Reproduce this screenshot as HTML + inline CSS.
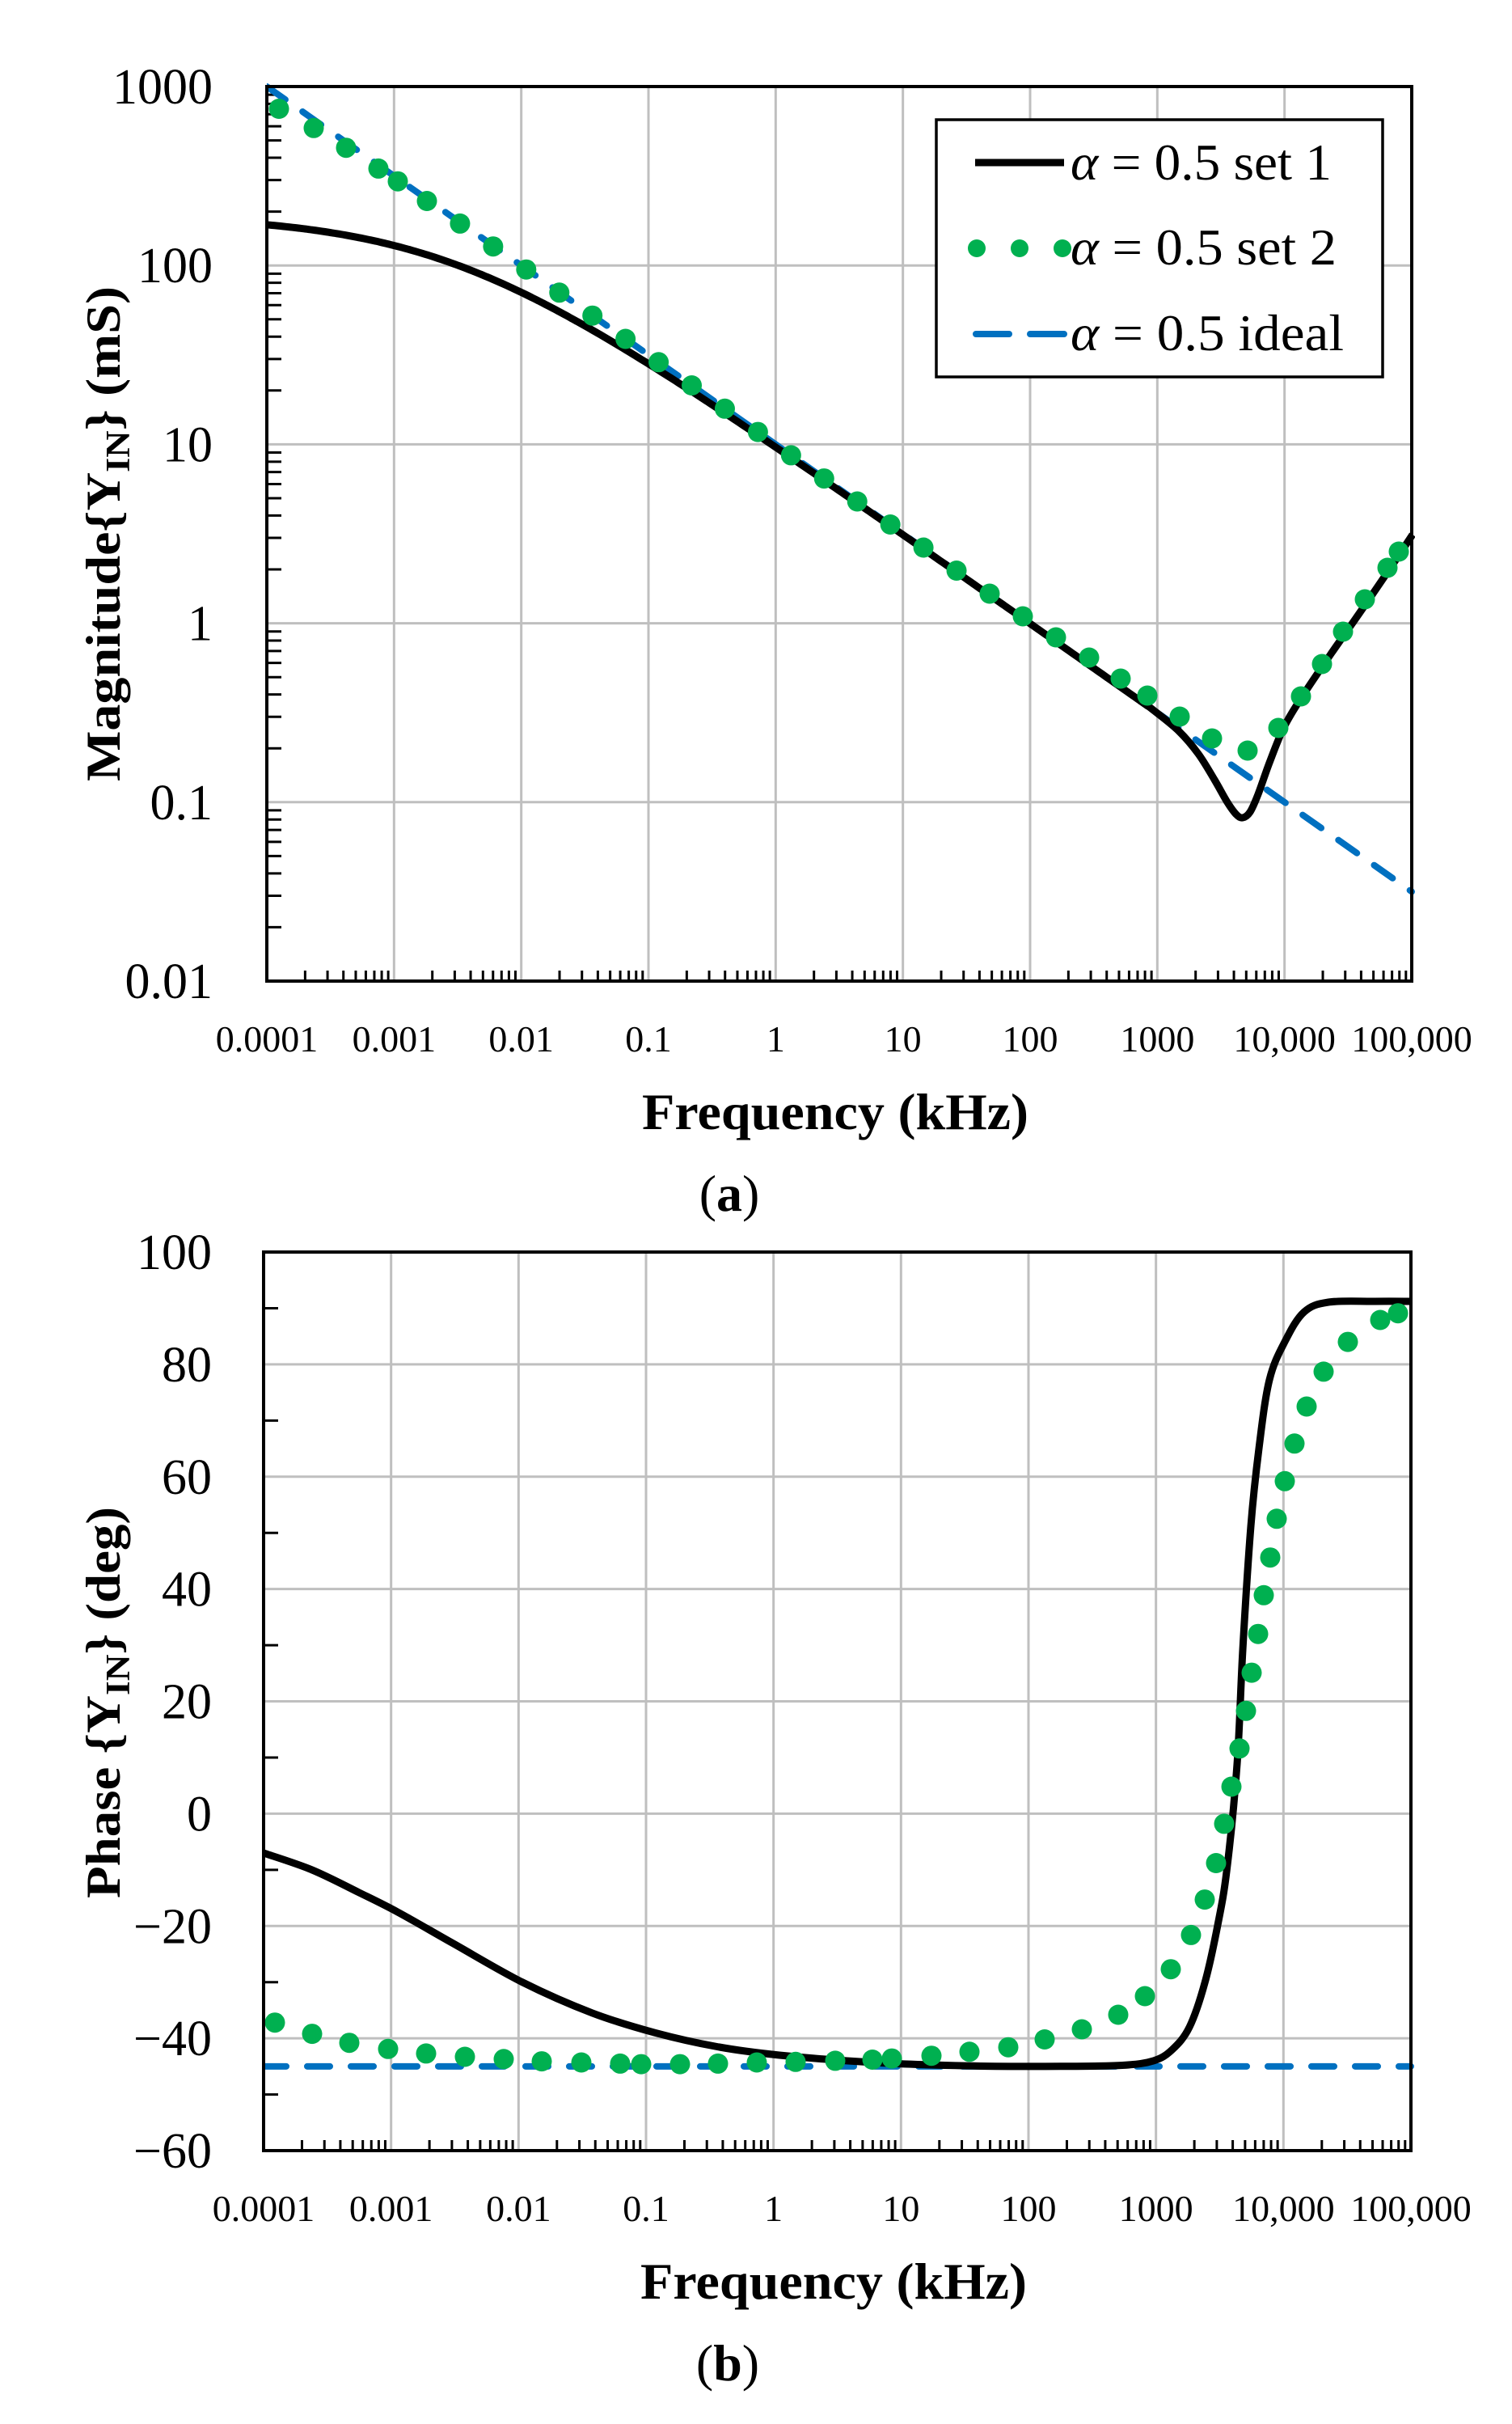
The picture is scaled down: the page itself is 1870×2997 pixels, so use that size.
<!DOCTYPE html>
<html><head><meta charset="utf-8">
<style>
html,body{margin:0;padding:0;background:#fff;}
svg{display:block;}
text{font-family:"Liberation Serif",serif;fill:#000;}
</style></head>
<body>
<svg id="s" width="1870" height="2997" viewBox="0 0 1870 2997" xmlns="http://www.w3.org/2000/svg"></svg>
<script>
const S=document.getElementById('s');
let h='';
function ln(x1,y1,x2,y2,c,w){h+=`<line x1="${x1}" y1="${y1}" x2="${x2}" y2="${y2}" stroke="${c}" stroke-width="${w}"/>`;}
function tx(x,y,t,sz,anchor,extra){h+=`<text x="${x}" y="${y}" font-size="${sz}" text-anchor="${anchor||'middle'}" ${extra||''}>${t}</text>`;}
function cr(pts){
  let d=`M${pts[0][0].toFixed(1)},${pts[0][1].toFixed(1)}`;
  for(let i=0;i<pts.length-1;i++){
    const p0=pts[i-1]||pts[i],p1=pts[i],p2=pts[i+1],p3=pts[i+2]||p2;
    const c1=[p1[0]+(p2[0]-p0[0])/6,p1[1]+(p2[1]-p0[1])/6];
    const c2=[p2[0]-(p3[0]-p1[0])/6,p2[1]-(p3[1]-p1[1])/6];
    d+=`C${c1[0].toFixed(1)},${c1[1].toFixed(1)} ${c2[0].toFixed(1)},${c2[1].toFixed(1)} ${p2[0].toFixed(1)},${p2[1].toFixed(1)}`;
  }
  return d;
}
const xlabels=['0.0001','0.001','0.01','0.1','1','10','100','1000','10,000','100,000'];
function frame(L,R,T,B){
  const xd=(R-L)/9;
  for(let i=1;i<9;i++) ln(L+i*xd,T,L+i*xd,B,'#bfbfbf',3);
  for(let i=0;i<9;i++) for(let k=2;k<=9;k++){const x=L+(i+Math.log10(k))*xd; ln(x,B,x,B-13,'#000',3);}
}
// ---------- Panel A ----------
{
const L=330,R=1746,T=107,B=1213,xd=(R-L)/9,yd=(B-T)/5;
for(let j=1;j<5;j++) ln(L,T+j*yd,R,T+j*yd,'#bfbfbf',3);
frame(L,R,T,B);
for(let j=0;j<5;j++) for(let k=2;k<=9;k++){const y=T+(j+1-Math.log10(k))*yd; ln(L,y,L+18,y,'#000',3);}
const yl=['1000','100','10','1','0.1','0.01'];
yl.forEach((t,j)=>tx(263,T+j*yd+21,t,62,'end'));
xlabels.forEach((t,i)=>tx(L+i*xd,1300,t,46));
tx(1033,1396,'Frequency (kHz)',64,'middle','font-weight="bold" textLength="478" lengthAdjust="spacingAndGlyphs"');
tx(902,1497,'(<tspan font-weight="bold">a</tspan>)',64);
h+=`<text transform="translate(148,660) rotate(-90)" font-size="60" font-weight="bold" text-anchor="middle" textLength="612" lengthAdjust="spacingAndGlyphs">Magnitude{Y<tspan font-size="42" dy="12">IN</tspan><tspan dy="-12">} (mS)</tspan></text>`;
h+=`<clipPath id="ca"><rect x="${L}" y="${T-6}" width="${R-L+4}" height="${B-T+6}"/></clipPath>`;
h+=`<line x1="${L}" y1="${T}" x2="${R}" y2="${T+4.5*yd}" stroke="#0070c0" stroke-width="8" stroke-dasharray="28 26" stroke-linecap="round" clip-path="url(#ca)"/>`;
const pts=[];
for(let x=L;x<=1430;x+=8){
  const lf=(x-L)/xd-4, f=Math.pow(10,lf);
  const r=0.1*Math.sqrt(f), re=0.00517+r*Math.SQRT1_2, im=r*Math.SQRT1_2;
  const m=1/Math.hypot(re,im);
  pts.push([x,T+(3-Math.log10(m))*yd]);
}
[[1458,904],[1482,932],[1502,964],[1518,992],[1529,1007],[1537,1011],[1546,1004],[1556,982],[1570,943],[1588,899],[1610,862],[1645,810],[1680,760],[1715,709],[1747,661]].forEach(p=>pts.push(p));
h+=`<path d="${cr(pts)}" fill="none" stroke="#000" stroke-width="9" stroke-linejoin="round" clip-path="url(#ca)"/>`;
const gx=[345,388,428,468,492];
for(let k=0;k<18;k++) gx.push(528+k*40.94);
let dots='';
gx.forEach(x=>{const y=T+0.7032*(x-L)+(x<700?17*Math.exp(-(x-345)/90):0)+(x>1000?-2*(x-1000)/265:0);dots+=`<circle cx="${x}" cy="${y.toFixed(1)}" r="12.5"/>`;});
[[1265,762],[1306,788],[1347,813],[1386,839],[1419,860],[1459,886],[1499,913],[1543,928],[1581,900],[1609,861],[1635,821],[1661,781],[1688,741],[1716,702],[1730,682]].forEach(p=>dots+=`<circle cx="${p[0]}" cy="${p[1]}" r="12.5"/>`);
h+=`<g fill="#00b050">${dots}</g>`;
h+=`<rect x="${L}" y="${T}" width="${R-L}" height="${B-T}" fill="none" stroke="#000" stroke-width="4"/>`;
// legend
h+=`<rect x="1158" y="148" width="552" height="318" fill="#fff" stroke="#000" stroke-width="3.5"/>`;
ln(1206,201,1316,201,'#000',9);
h+=`<g fill="#00b050"><circle cx="1208" cy="307" r="11"/><circle cx="1261" cy="307" r="11"/><circle cx="1314" cy="307" r="11"/></g>`;
h+=`<g stroke="#0070c0" stroke-width="8" stroke-linecap="round"><line x1="1207" y1="413" x2="1248" y2="413"/><line x1="1274" y1="413" x2="1316" y2="413"/></g>`;
[['set 1',222,323],['set 2',327,329],['ideal',433,338]].forEach(([t,y,w])=>tx(1324,y,`<tspan font-style="italic">α</tspan> = 0.5 ${t}`,64,'start',`textLength="${w}" lengthAdjust="spacingAndGlyphs"`));
}
// ---------- Panel B ----------
{
const L=326,R=1745,T=1548,B=2659,xd=(R-L)/9,pd=(B-T)/160;
const Y=p=>T+(100-p)*pd;
for(let j=1;j<8;j++) ln(L,T+j*20*pd,R,T+j*20*pd,'#bfbfbf',3);
frame(L,R,T,B);
for(let j=0;j<8;j++){const y=T+(10+j*20)*pd; ln(L,y,L+18,y,'#000',3);}
['100','80','60','40','20','0','−20','−40','−60'].forEach((t,j)=>tx(262,T+j*20*pd+21,t,62,'end'));
xlabels.forEach((t,i)=>tx(L+i*xd,2746,t,46));
tx(1031,2842,'Frequency (kHz)',64,'middle','font-weight="bold" textLength="478" lengthAdjust="spacingAndGlyphs"');
tx(900,2943,'(<tspan font-weight="bold">b</tspan>)',64);
h+=`<text transform="translate(148,2105) rotate(-90)" font-size="60" font-weight="bold" text-anchor="middle" textLength="484" lengthAdjust="spacingAndGlyphs">Phase {Y<tspan font-size="42" dy="12">IN</tspan><tspan dy="-12">} (deg)</tspan></text>`;
h+=`<clipPath id="cb"><rect x="${L}" y="${T}" width="${R-L+4}" height="${B-T}"/></clipPath>`;
h+=`<line x1="${L}" y1="${Y(-45)}" x2="${R}" y2="${Y(-45)}" stroke="#0070c0" stroke-width="8" stroke-dasharray="28 26" stroke-linecap="round" clip-path="url(#cb)"/>`;
const bp=[[172,-7],[200,-10],[230,-14],[255,-17.5],[290,-23],[335,-30],[380,-35.5],[420,-39],[460,-41.5],[500,-43],[560,-44.3],[620,-44.9],[680,-45],[720,-44.8],[740,-44],[752,-42],[763,-38],[773,-30],[781,-20],[787,-10]].map(p=>[p[0]*1.928,Y(p[1])]);
bp[0][0]=L;
[[1530,2181],[1537,2040],[1547,1887],[1557,1791],[1570,1706],[1590,1657],[1613,1622],[1643,1610],[1700,1609],[1746,1609]].forEach(p=>bp.push(p));
h+=`<path d="${cr(bp)}" fill="none" stroke="#000" stroke-width="9" stroke-linejoin="round" clip-path="url(#cb)"/>`;
let dots='';
[[340,-37.2],[386,-39.2],[432,-40.8],[480,-41.9],[527,-42.7],[575,-43.3],[623,-43.7],[670,-44.1],[719,-44.3],[767,-44.5],[793,-44.6],[841,-44.6],[888,-44.5],[936,-44.3],[984,-44.2],[1033,-44],[1079,-43.8],[1103,-43.6],[1152,-43.1],[1199,-42.4],[1247,-41.6],[1292,-40.2],[1338,-38.4],[1383,-35.8],[1416,-32.5],[1448,-27.7],[1473,-21.6],[1490,-15.3],[1504,-8.8],[1514,-1.8],[1523,4.8],[1533,11.6],[1541,18.3],[1548,25.1],[1556,32],[1563,38.9],[1571,45.6],[1579,52.5],[1589,59.2],[1601,65.9],[1616,72.5],[1637,78.7],[1667,84],[1707,87.9],[1729,89.1]].forEach(p=>dots+=`<circle cx="${p[0]}" cy="${Y(p[1]).toFixed(1)}" r="12.5"/>`);
h+=`<g fill="#00b050">${dots}</g>`;
h+=`<rect x="${L}" y="${T}" width="${R-L}" height="${B-T}" fill="none" stroke="#000" stroke-width="4"/>`;
}
S.innerHTML=h;
</script>
</body></html>
